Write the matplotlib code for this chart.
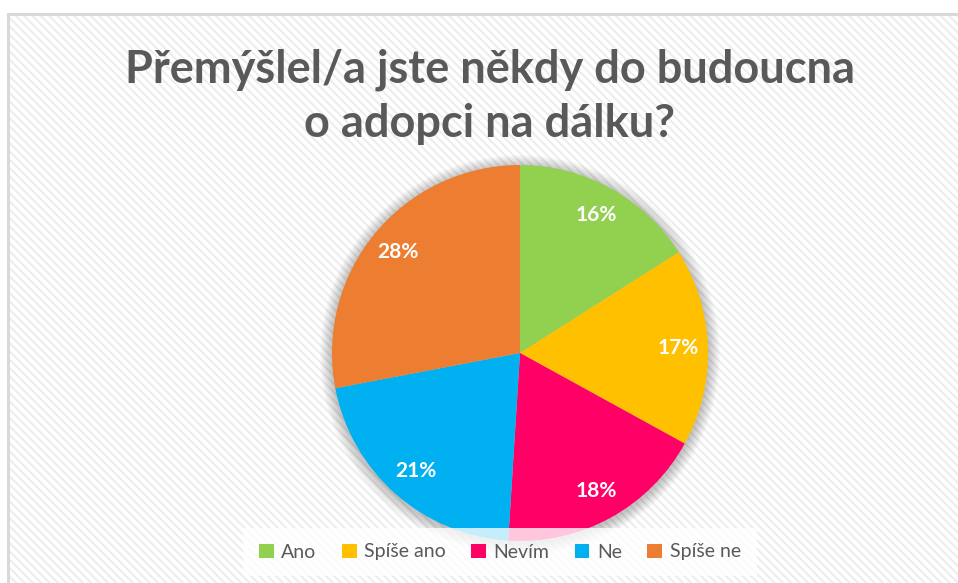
import matplotlib
matplotlib.use("Agg")
import matplotlib.pyplot as plt
from matplotlib.patches import Rectangle, Circle, Patch

categories = ["Ano", "Spíše ano", "Nevím", "Ne", "Spíše ne"]
values = [16, 17, 18, 21, 28]
colors = ["#92d050", "#ffc000", "#ff0066", "#00b0f0", "#ed7d31"]
title = "Přemýšlel/a jste někdy do budoucna\no adopci na dálku?"

W, H = 958, 583
plt.rcParams['hatch.linewidth'] = 1.4
fig = plt.figure(figsize=(W / 100, H / 100), dpi=100)
ax = fig.add_axes([0, 0, 1, 1])

# background chart area with diagonal stripes
ax.add_patch(Rectangle((8, -10), W, H - 14 + 10, facecolor="white", edgecolor="#ececec",
                       hatch="\\\\\\\\", linewidth=0, zorder=0))
ax.add_patch(Rectangle((8, -10), W, H - 14 + 10, facecolor="none", edgecolor="#d9d9d9",
                       linewidth=2.2, zorder=1))

cx, cy, r = 520, H - 353, 188
# soft shadow
for k in range(12, 0, -1):
    ax.add_patch(Circle((cx, cy - 2), r + k, facecolor="black", edgecolor="none",
                        alpha=0.018, zorder=2))

wedges, texts, autotexts = ax.pie(values, colors=colors, startangle=90, counterclock=False,
                                  center=(cx, cy), radius=r, autopct="%d%%", pctdistance=0.84,
                                  textprops=dict(color="white", fontsize=15, fontweight="bold",
                                                 family="Lato"),
                                  wedgeprops=dict(linewidth=0, zorder=3))
for w in wedges:
    w.set_zorder(3)
for t in autotexts:
    t.set_zorder(4)

ax.set_xlim(0, W)
ax.set_ylim(0, H)
ax.set_aspect("auto")
ax.axis("off")

ax.text(490, H - 97, title, ha="center", va="center", fontsize=32.5, fontweight="bold",
        color="#595959", family="Lato", linespacing=1.34, zorder=5)

handles = [Patch(facecolor=c, edgecolor="none") for c in colors]
leg = ax.legend(handles, categories, loc="center", bbox_to_anchor=(500, H - 552),
                bbox_transform=ax.transData, ncol=5, frameon=True, fancybox=False,
                handlelength=0.75, handleheight=0.75, handletextpad=0.4, columnspacing=1.3,
                borderpad=0.8,
                prop=dict(family="Lato", size=14))
leg.get_frame().set_facecolor("white")
leg.get_frame().set_alpha(0.78)
leg.get_frame().set_edgecolor("none")
leg.set_zorder(6)
for t in leg.get_texts():
    t.set_color("#595959")

fig.savefig("out.png", dpi=100)
